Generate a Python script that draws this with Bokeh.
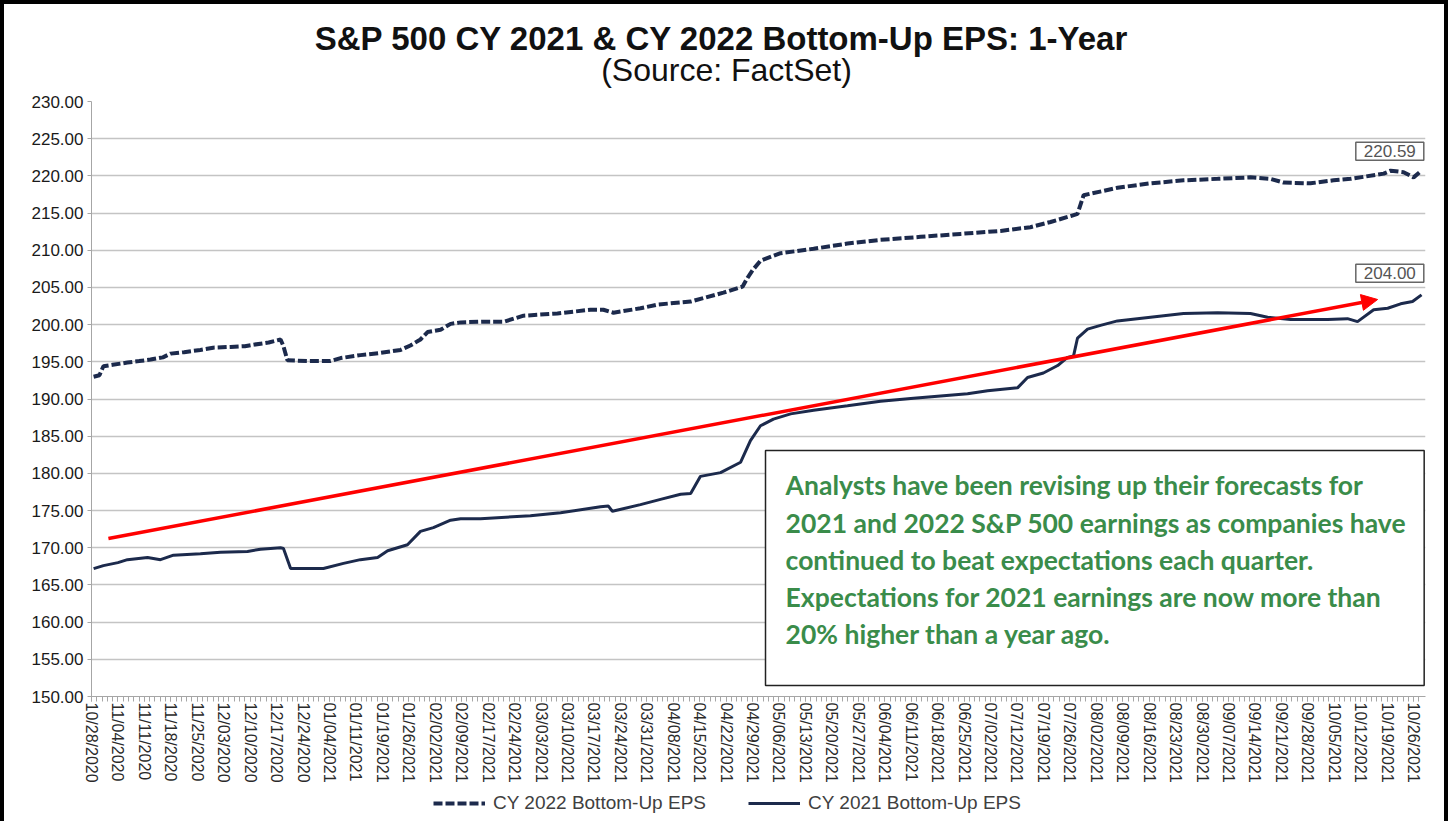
from bokeh.plotting import figure
from bokeh.layouts import column
from bokeh.models import (Range1d, FixedTicker, NumeralTickFormatter, Label, Arrow,
                          NormalHead, BoxAnnotation, Legend, LegendItem, ColumnDataSource)
from bokeh.embed import file_html
from bokeh.resources import INLINE

# ---------------- data ----------------
date_labels = ["10/28/2020", "11/04/2020", "11/11/2020", "11/18/2020", "11/25/2020",
               "12/03/2020", "12/10/2020", "12/17/2020", "12/24/2020", "01/04/2021",
               "01/11/2021", "01/19/2021", "01/26/2021", "02/02/2021", "02/09/2021",
               "02/17/2021", "02/24/2021", "03/03/2021", "03/10/2021", "03/17/2021",
               "03/24/2021", "03/31/2021", "04/08/2021", "04/15/2021", "04/22/2021",
               "04/29/2021", "05/06/2021", "05/13/2021", "05/20/2021", "05/27/2021",
               "06/04/2021", "06/11/2021", "06/18/2021", "06/25/2021", "07/02/2021",
               "07/12/2021", "07/19/2021", "07/26/2021", "08/02/2021", "08/09/2021",
               "08/16/2021", "08/23/2021", "08/30/2021", "09/07/2021", "09/14/2021",
               "09/21/2021", "09/28/2021", "10/05/2021", "10/12/2021", "10/19/2021",
               "10/26/2021"]

# position in weeks (index of the date labels, fractional = days in between)
cy2022_week = [0.08, 0.30, 0.45, 0.8, 1.36, 1.8, 2.23, 2.7, 2.99, 3.5, 4.12, 4.6, 5.26, 5.8,
               6.13, 6.7, 7.15, 7.25, 7.41, 8.2, 9.04, 9.42, 10.17, 10.93, 11.69, 12.06,
               12.44, 12.71, 13.2, 13.58, 13.96, 14.8, 15.6, 16.34, 17.62, 18.87, 19.36,
               19.74, 20.76, 21.41, 22.66, 23.9, 24.62, 24.81, 25.0, 25.3, 26.06, 27.31,
               28.59, 29.84, 31.35, 32.87, 34.38, 35.51, 36.27, 37.03, 37.29, 37.52, 38.8,
               40.05, 41.3, 42.59, 43.83, 44.59, 45.08, 46.1, 46.97, 47.62, 48.87, 49.13,
               49.62, 50.0, 50.26]
cy2022_eps = [193.0, 193.2, 194.4, 194.6, 194.9, 195.1, 195.3, 195.6, 196.1, 196.3, 196.6,
              196.9, 197.0, 197.1, 197.3, 197.6, 198.0, 197.2, 195.2, 195.1, 195.1, 195.5,
              195.9, 196.2, 196.6, 197.2, 198.0, 199.0, 199.3, 200.1, 200.3, 200.4, 200.4,
              201.2, 201.5, 202.0, 202.0, 201.6, 202.2, 202.7, 203.1, 204.3, 205.1, 206.3,
              207.3, 208.6, 209.6, 210.2, 210.9, 211.4, 211.8, 212.2, 212.6, 213.1, 213.8,
              214.6, 214.9, 217.4, 218.4, 219.0, 219.4, 219.6, 219.8, 219.6, 219.1, 219.0,
              219.4, 219.6, 220.3, 220.7, 220.5, 219.8, 220.59]

cy2021_week = [0.08, 0.45, 1.0, 1.36, 2.12, 2.61, 3.10, 4.12, 4.88, 5.9, 6.39, 7.15, 7.26,
               7.53, 8.77, 9.53, 10.17, 10.82, 11.2, 11.95, 12.44, 12.93, 13.58, 13.96,
               14.71, 16.6, 17.74, 19.25, 19.55, 19.7, 20.76, 21.52, 22.28, 22.66, 23.03,
               23.79, 24.55, 24.92, 25.3, 25.79, 26.44, 27.31, 28.59, 29.84, 31.09, 32.11,
               33.13, 33.89, 35.02, 35.4, 36.0, 36.54, 36.91, 37.14, 37.29, 37.67, 38.16,
               38.8, 40.05, 41.3, 42.59, 43.83, 44.48, 45.35, 46.75, 47.5, 47.88, 48.49,
               49.02, 49.51, 49.96, 50.3]
cy2021_eps = [167.2, 167.6, 168.0, 168.4, 168.7, 168.4, 169.0, 169.2, 169.4, 169.5, 169.8,
              170.0, 169.9, 167.2, 167.2, 167.9, 168.4, 168.7, 169.6, 170.4, 172.2, 172.7,
              173.7, 173.9, 173.9, 174.3, 174.7, 175.5, 175.6, 174.9, 175.8, 176.5, 177.2,
              177.3, 179.6, 180.1, 181.5, 184.4, 186.4, 187.3, 188.0, 188.5, 189.1, 189.7,
              190.1, 190.4, 190.7, 191.1, 191.5, 192.9, 193.5, 194.5, 195.6, 195.8, 198.2,
              199.4, 199.9, 200.5, 201.0, 201.5, 201.6, 201.5, 201.0, 200.7, 200.7, 200.8,
              200.4, 202.0, 202.2, 202.8, 203.1, 204.0]

series_names = ["CY 2022 Bottom-Up EPS", "CY 2021 Bottom-Up EPS"]
title_text = "S&P 500 CY 2021 & CY 2022 Bottom-Up  EPS: 1-Year"
subtitle_text = "(Source: FactSet)"
note_lines = ["Analysts have been revising up their forecasts for",
              "2021 and 2022 S&P 500 earnings as companies have",
              "continued to beat expectations each quarter.",
              "Expectations for 2021 earnings are now more than",
              "20% higher than a year ago."]

# ---------------- styling ----------------
NAVY = "#1c2a4c"
GREEN = "#3a8c4a"
FONT = "Liberation Sans"
DASH = "9 3"
BORDER = "4px solid black"


def strip(height, styles):
    f = figure(width=1448, height=height, output_backend="svg", toolbar_location=None,
               x_axis_type=None, y_axis_type=None,
               min_border_left=0, min_border_right=0, min_border_top=0,
               min_border_bottom=0)
    f.styles = styles
    f.outline_line_color = None
    f.background_fill_color = "white"
    f.border_fill_color = "white"
    return f


# ---------------- title strip ----------------
top = strip(89, {"border-left": BORDER, "border-top": BORDER, "border-right": BORDER})
top.x_range = Range1d(91, 1425)
top.y_range = Range1d(0, 89)
top.add_layout(Label(x=726, y=55, text=title_text, text_align="center",
                     text_baseline="middle", text_font=FONT, text_font_style="bold",
                     text_font_size="33px", text_color="#111111"))
top.add_layout(Label(x=726, y=24, text=subtitle_text, text_align="center",
                     text_baseline="middle", text_font=FONT, text_font_style="normal",
                     text_font_size="32px", text_color="#111111"))

# ---------------- main figure ----------------
p = figure(width=1448, height=701, output_backend="svg", toolbar_location=None,
           x_range=Range1d(0, 50.45), y_range=Range1d(150, 230),
           min_border_left=87, min_border_right=27, min_border_top=12,
           min_border_bottom=94)
p.styles = {"border-left": BORDER, "border-right": BORDER}
p.outline_line_color = None
p.background_fill_color = "white"
p.border_fill_color = "white"

n = len(date_labels)
p.xaxis.ticker = FixedTicker(ticks=list(range(n)),
                             minor_ticks=[i / 5 for i in range((n - 1) * 5 + 2)])
p.xaxis.major_label_overrides = {i: d for i, d in enumerate(date_labels)}
p.xaxis.major_label_orientation = "vertical"
p.xaxis.major_label_text_font = FONT
p.xaxis.major_label_text_font_size = "16px"
p.xaxis.major_label_text_color = "#2a2a2a"
p.xaxis.major_label_standoff = 1
p.xaxis.axis_line_color = "#a6a6a6"
p.xaxis.major_tick_line_color = "#a6a6a6"
p.xaxis.minor_tick_line_color = "#a6a6a6"
p.xaxis.major_tick_out = 5
p.xaxis.major_tick_in = 0
p.xaxis.minor_tick_out = 5
p.xaxis.minor_tick_in = 0

p.yaxis.ticker = FixedTicker(ticks=list(range(150, 231, 5)))
p.yaxis.formatter = NumeralTickFormatter(format="0.00")
p.yaxis.major_label_text_font = FONT
p.yaxis.major_label_text_font_size = "17px"
p.yaxis.major_label_text_color = "#1a1a1a"
p.yaxis.major_label_standoff = 4
p.yaxis.axis_line_color = "#a6a6a6"
p.yaxis.major_tick_line_color = "#a6a6a6"
p.yaxis.major_tick_out = 4
p.yaxis.major_tick_in = 0
p.yaxis.minor_tick_line_color = None

p.xgrid.grid_line_color = None
p.ygrid.grid_line_color = "#c4c4c4"
p.ygrid.grid_line_width = 1.5

src22 = ColumnDataSource(dict(x=cy2022_week, y=cy2022_eps))
src21 = ColumnDataSource(dict(x=cy2021_week, y=cy2021_eps))
p.line("x", "y", source=src22, line_color=NAVY, line_width=4, line_dash=DASH)
p.line("x", "y", source=src21, line_color=NAVY, line_width=3)

# end-value callouts
for val, ylab in [(cy2022_eps[-1], 223.3), (cy2021_eps[-1], 206.9)]:
    p.add_layout(Label(x=49.1, y=ylab, text=f"{val:.2f}", text_align="center",
                       text_baseline="middle", text_font=FONT,
                       text_font_size="17px", text_color="#555555",
                       border_line_color="#666666", border_line_width=1.5,
                       background_fill_color="white", padding=(8, 3)))

# red trend arrow
p.add_layout(Arrow(end=NormalHead(size=16, fill_color="#ff0000", line_color="#ff0000"),
                   x_start=0.64, y_start=171.24, x_end=48.64, y_end=203.38,
                   line_color="#ff0000", line_width=3.5))

# note box
p.add_layout(BoxAnnotation(left=25.49, right=50.40, top=183.07, bottom=151.48,
                           fill_color="white", fill_alpha=1.0,
                           line_color="#222222", line_width=1.5, line_alpha=1.0))
for i, line in enumerate(note_lines):
    p.add_layout(Label(x=26.25, y=178.37 - i * 4.98, text=line, text_align="left",
                       text_baseline="middle", text_font="Lato",
                       text_font_style="bold", text_font_size="26.5px", text_color=GREEN))

# ---------------- legend strip ----------------
lf = strip(31, {"border-left": BORDER, "border-right": BORDER})
lf.x_range = Range1d(0, 1)
lf.y_range = Range1d(0, 1)
# same sources; their values lie outside this strip's (0..1) ranges, so only the
# legend samples show
l22 = lf.line("x", "y", source=src22, line_color=NAVY, line_width=4, line_dash=DASH)
l21 = lf.line("x", "y", source=src21, line_color=NAVY, line_width=3)
legend = Legend(items=[LegendItem(label=series_names[0], renderers=[l22]),
                       LegendItem(label=series_names[1], renderers=[l21])],
                orientation="horizontal", location=(342, 7),
                border_line_color=None, background_fill_alpha=0,
                glyph_width=52, label_standoff=8, spacing=42, padding=0, margin=0,
                label_text_font=FONT, label_text_font_size="19px",
                label_text_color="#404040")
lf.add_layout(legend, "center")

layout = column(top, p, lf, spacing=0)
open("out.html", "w").write(file_html(layout, INLINE))
